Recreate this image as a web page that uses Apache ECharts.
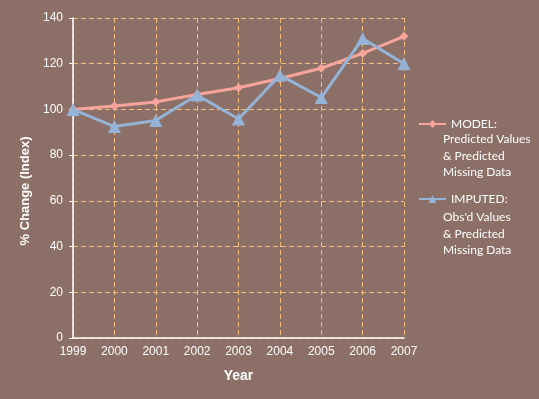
<!DOCTYPE html>
<html>
<head>
<meta charset="utf-8">
<script src="https://cdn.jsdelivr.net/npm/echarts@6/dist/echarts.min.js"></script>
<style>
  html, body { margin: 0; padding: 0; background: #8c6f66; }
  #chart { width: 539px; height: 399px; }
</style>
</head>
<body>
<div id="chart"></div>
<script>
  // values
  const years = ['1999', '2000', '2001', '2002', '2003', '2004', '2005', '2006', '2007'];
  const modelValues = [100, 101.5, 103.3, 106.5, 109.5, 113.5, 118, 124.5, 132];
  const imputedValues = [100, 92.5, 95.2, 106.3, 95.8, 115, 105.2, 131, 120];
  const yTicks = { min: 0, max: 140, step: 20 };

  const gridColor = '#f5bd78';
  const textColor = '#ffffff';

  let myChart = echarts.init(document.getElementById('chart'));
  let option = {
    backgroundColor: '#8c6f66',
    animation: false,
    grid: { left: 73, right: 135, top: 18, bottom: 61 },
    legend: {
      orient: 'vertical',
      left: 413,
      top: 113,
      itemWidth: 27,
      itemHeight: 10,
      itemGap: 63,
      textStyle: { color: textColor, fontFamily: 'Lato', fontSize: 12 },
      data: ['MODEL:', 'IMPUTED:']
    },
    graphic: [
      {
        type: 'text', left: 443, top: 131,
        style: {
          text: 'Predicted Values\n& Predicted\nMissing Data',
          fill: textColor, font: '12px Lato', lineHeight: 16.5
        }
      },
      {
        type: 'text', left: 443, top: 209,
        style: {
          text: "Obs'd Values\n& Predicted\nMissing Data",
          fill: textColor, font: '12px Lato', lineHeight: 16.5
        }
      },
      {
        // y axis title, sits a little below the plot middle
        type: 'text', x: 25, y: 191, rotation: Math.PI / 2,
        style: {
          text: '% Change (Index)', fill: textColor,
          font: 'bold 13px "Liberation Sans"', align: 'center', verticalAlign: 'middle'
        }
      }
    ],
    xAxis: {
      type: 'category',
      data: years,
      boundaryGap: false,
      name: 'Year',
      nameLocation: 'middle',
      nameGap: 31,
      nameTextStyle: { color: textColor, fontWeight: 'bold', fontSize: 14, fontFamily: 'Liberation Sans' },
      axisLine: { lineStyle: { color: '#ffffff', width: 1.5 } },
      axisTick: { show: false },
      axisLabel: { color: textColor, fontSize: 12, fontFamily: 'Liberation Sans', margin: 8 },
      splitLine: { show: true, lineStyle: { color: gridColor, type: [5, 3], width: 1 } }
    },
    yAxis: {
      type: 'value',
      min: yTicks.min,
      max: yTicks.max,
      interval: yTicks.step,
      axisLine: { show: true, lineStyle: { color: '#ffffff', width: 1.5 } },
      axisTick: { show: true, length: 4, lineStyle: { color: '#ffffff' } },
      axisLabel: { color: textColor, fontSize: 12, fontFamily: 'Liberation Sans', margin: 10 },
      splitLine: { show: true, lineStyle: { color: gridColor, type: [5, 3], width: 1 } }
    },
    series: [
      {
        name: 'MODEL:',
        type: 'line',
        data: modelValues,
        symbol: 'diamond',
        symbolSize: 9,
        lineStyle: { color: '#f7a59c', width: 3 },
        itemStyle: { color: '#f7a59c' },
        z: 2
      },
      {
        name: 'IMPUTED:',
        type: 'line',
        data: imputedValues,
        symbol: 'triangle',
        symbolSize: 13,
        lineStyle: { color: '#95b3d7', width: 3 },
        itemStyle: { color: '#95b3d7' },
        z: 3
      }
    ]
  };
  myChart.setOption(option);
</script>
</body>
</html>
